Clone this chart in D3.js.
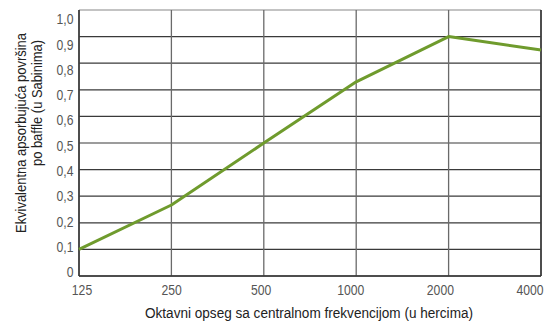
<!DOCTYPE html>
<html>
<head>
<meta charset="utf-8">
<script src="https://cdn.jsdelivr.net/npm/d3@7"></script>
<style>
  body { margin: 0; background: #fff; }
  svg { display: block; }
  text { font-family: "Liberation Sans", Arial, sans-serif; }
</style>
</head>
<body>
<script>
// Octave-band centre frequencies (Hz)
const bands = ["125", "250", "500", "1000", "2000", "4000"];
// Equivalent absorption area per baffle (Sabins)
const sabins = [0.10, 0.267, 0.50, 0.73, 0.90, 0.85];
// Y-axis ticks
const yTicks = [0, 0.1, 0.2, 0.3, 0.4, 0.5, 0.6, 0.7, 0.8, 0.9, 1.0];

const W = 557, H = 323;
const m = { left: 79, right: 16, top: 10, bottom: 47 };
const narrow = 0.84; // condensed look for the labels

const svg = d3.select("body").append("svg").attr("width", W).attr("height", H);

const x = d3.scalePoint().domain(bands).range([m.left, W - m.right]);
const y = d3.scaleLinear().domain([0, 1]).range([H - m.bottom, m.top]);
// label rows/columns sit on their own, slightly tighter spacing
const xLab = d3.scalePoint().domain(bands).range([82, 530]);
const yLab = d3.scaleLinear().domain([0, 1]).range([272, 19]);

const fmt = d => d === 0 ? "0" : d3.format(".1f")(d).replace(".", ",");

// squeeze a label horizontally to a condensed width
function condensed(sel) {
  sel.each(function () {
    const w = this.getComputedTextLength();
    d3.select(this).attr("textLength", w * narrow).attr("lengthAdjust", "spacingAndGlyphs");
  });
}

// Horizontal grid
svg.append("g").selectAll("line").data(yTicks).join("line")
  .attr("x1", m.left).attr("x2", W - m.right)
  .attr("y1", d => y(d)).attr("y2", d => y(d))
  .attr("stroke", d => d === 1 ? "#888" : "#3a3a3a").attr("stroke-width", 1.2);

// Vertical grid
svg.append("g").selectAll("line").data(bands).join("line")
  .attr("x1", d => x(d)).attr("x2", d => x(d))
  .attr("y1", m.top).attr("y2", H - m.bottom)
  .attr("stroke", "#6a6a6a").attr("stroke-width", 1.3);

// Frame edges
const frame = [
  [m.left, m.top, m.left, H - m.bottom],
  [W - m.right, m.top, W - m.right, H - m.bottom],
  [m.left, H - m.bottom, W - m.right, H - m.bottom]
];
svg.append("g").selectAll("line").data(frame).join("line")
  .attr("x1", d => d[0]).attr("y1", d => d[1]).attr("x2", d => d[2]).attr("y2", d => d[3])
  .attr("stroke", "#333").attr("stroke-width", 1.5);

// Data line
const line = d3.line().x((d, i) => x(bands[i])).y(d => y(d));
svg.append("path").datum(sabins)
  .attr("d", line).attr("fill", "none")
  .attr("stroke", "#6f9b2d").attr("stroke-width", 3).attr("stroke-linejoin", "round");

// Y tick labels
svg.append("g").selectAll("text").data(yTicks).join("text")
  .attr("x", 73.5).attr("y", d => yLab(d)).attr("dy", "0.36em")
  .attr("text-anchor", "end").attr("font-size", 14.5).attr("fill", "#555")
  .text(fmt).call(condensed);

// X tick labels
svg.append("g").selectAll("text").data(bands).join("text")
  .attr("x", d => xLab(d)).attr("y", 294.5)
  .attr("text-anchor", "middle").attr("font-size", 14.5).attr("fill", "#555")
  .text(d => d).call(condensed);

// Axis titles
svg.append("text").attr("x", 309).attr("y", 318)
  .attr("text-anchor", "middle").attr("font-size", 14).attr("fill", "#222")
  .text("Oktavni opseg sa centralnom frekvencijom (u hercima)")
  .attr("textLength", 328).attr("lengthAdjust", "spacingAndGlyphs");

svg.append("text").attr("transform", "translate(26,133) rotate(-90)")
  .attr("text-anchor", "middle").attr("font-size", 14).attr("fill", "#222")
  .text("Ekvivalentna apsorbujuća površina")
  .attr("textLength", 200).attr("lengthAdjust", "spacingAndGlyphs");

svg.append("text").attr("transform", "translate(42,103) rotate(-90)")
  .attr("text-anchor", "middle").attr("font-size", 14).attr("fill", "#222")
  .text("po baffle (u Sabinima)")
  .attr("textLength", 126).attr("lengthAdjust", "spacingAndGlyphs");
</script>
</body>
</html>
